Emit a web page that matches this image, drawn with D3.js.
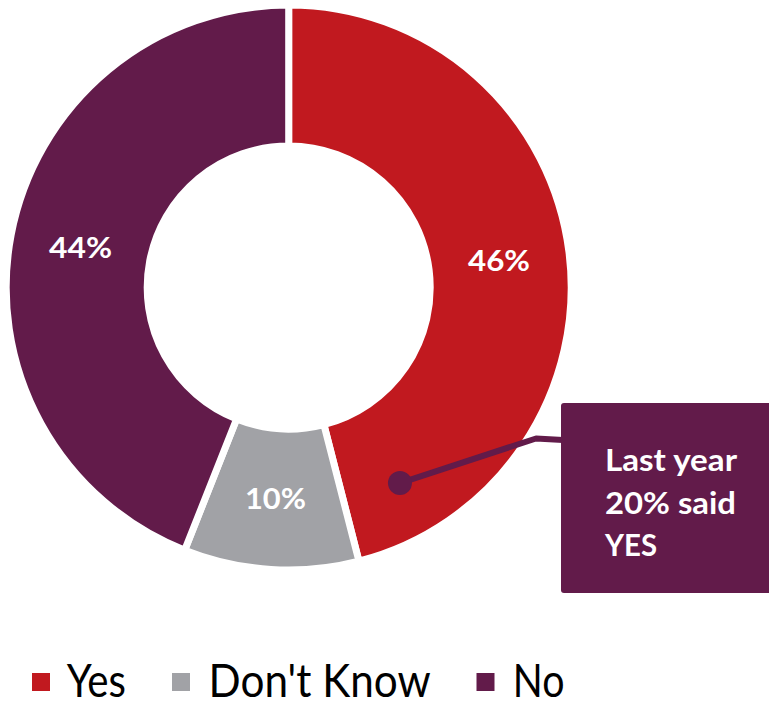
<!DOCTYPE html>
<html>
<head>
<meta charset="utf-8">
<script src="https://cdn.jsdelivr.net/npm/d3@7"></script>
<style>
  html, body { margin: 0; padding: 0; background: #ffffff; }
  svg { display: block; }
</style>
</head>
<body>
<svg id="chart" width="769" height="701"></svg>
<script>
// Survey answers
const categories = ["Yes", "Don't Know", "No"];
const values = [46, 10, 44];
const colors = ["#C1191F", "#A1A2A6", "#621B4A"];

// Call-out note about last year's result
const noteLines = ["Last year", "20% said", "YES"];

// Layout
const W = 769, H = 701;
const cx = 288.7, cy = 287.5;
const rOuter = 279, rInner = 145, gap = 7;
const FONT = "Lato, 'Open Sans', 'DejaVu Sans', sans-serif";
const CAP = 0.7165; // cap height ratio for the chosen face

const svg = d3.select("#chart");
const g = svg.append("g").attr("transform", `translate(${cx},${cy})`);

const data = categories.map((c, i) => ({ category: c, value: values[i], color: colors[i] }));

const pie = d3.pie().sort(null).value(d => d.value).startAngle(0).endAngle(2 * Math.PI);
const arcs = pie(data);

// Slices: white separator strokes eat half the gap on each side
const arcShape = d3.arc()
  .innerRadius(rInner - gap / 2)
  .outerRadius(rOuter + gap / 2);

g.selectAll("path.slice")
  .data(arcs)
  .join("path")
  .attr("class", "slice")
  .attr("d", arcShape)
  .attr("fill", d => d.data.color)
  .attr("stroke", "#ffffff")
  .attr("stroke-width", gap)
  .attr("stroke-linejoin", "miter");

// Percentage labels at each slice's centroid
const labelArc = d3.arc().innerRadius(rInner).outerRadius(rOuter);
const labelSize = 28.6;
const labelWidths = [62, 10, 63];
g.selectAll("text.pct")
  .data(arcs)
  .join("text")
  .attr("class", "pct")
  .attr("x", d => labelArc.centroid(d)[0])
  .attr("y", d => labelArc.centroid(d)[1] + labelSize * CAP / 2)
  .attr("text-anchor", "middle")
  .attr("font-family", FONT)
  .attr("font-weight", 700)
  .attr("font-size", labelSize)
  .attr("fill", "#ffffff")
  .attr("textLength", (d, i) => [62, 61, 63][i])
  .attr("lengthAdjust", "spacingAndGlyphs")
  .text(d => d.data.value + "%");

// Call-out: leader line from a dot inside the "Yes" slice to a box on the right
const yesArc = arcs[0];
const dotAngle = yesArc.startAngle + (yesArc.endAngle - yesArc.startAngle) * 0.908;
const dotR = 225;
const dot = [cx + dotR * Math.sin(dotAngle), cy - dotR * Math.cos(dotAngle)];

const box = { x: 561, y: 403, w: 230, h: 190 };
const noteColor = colors[2];

svg.append("path")
  .attr("d", d3.line()([dot, [536, 438.5], [box.x + 2, 440]]))
  .attr("fill", "none")
  .attr("stroke", noteColor)
  .attr("stroke-width", 6)
  .attr("stroke-linejoin", "round");

svg.append("circle")
  .attr("cx", dot[0])
  .attr("cy", dot[1])
  .attr("r", 12)
  .attr("fill", noteColor);

svg.append("rect")
  .attr("x", box.x)
  .attr("y", box.y)
  .attr("width", box.w)
  .attr("height", box.h)
  .attr("rx", 3)
  .attr("fill", noteColor);

const noteSize = 30.7;
const noteWidths = [132, 131, 52];
svg.append("g")
  .selectAll("text")
  .data(noteLines)
  .join("text")
  .attr("x", 605)
  .attr("y", (d, i) => 471 + i * 42.5)
  .attr("font-family", FONT)
  .attr("font-weight", 700)
  .attr("font-size", noteSize)
  .attr("fill", "#ffffff")
  .attr("textLength", (d, i) => noteWidths[i])
  .attr("lengthAdjust", "spacingAndGlyphs")
  .text(d => d);

// Legend
const legendSwatchX = [32, 172, 476.5];
const legendTextX = [66.7, 208.6, 512.8];
const legendTextW = [59.3, 222, 51.7];
const legend = svg.append("g").selectAll("g")
  .data(data)
  .join("g");

legend.append("rect")
  .attr("x", (d, i) => legendSwatchX[i])
  .attr("y", 673)
  .attr("width", 18)
  .attr("height", 18)
  .attr("fill", d => d.color);

legend.append("text")
  .attr("x", (d, i) => legendTextX[i])
  .attr("y", 697)
  .attr("font-family", FONT)
  .attr("font-size", 46)
  .attr("fill", "#000000")
  .attr("textLength", (d, i) => legendTextW[i])
  .attr("lengthAdjust", "spacingAndGlyphs")
  .text(d => d.category);
</script>
</body>
</html>
